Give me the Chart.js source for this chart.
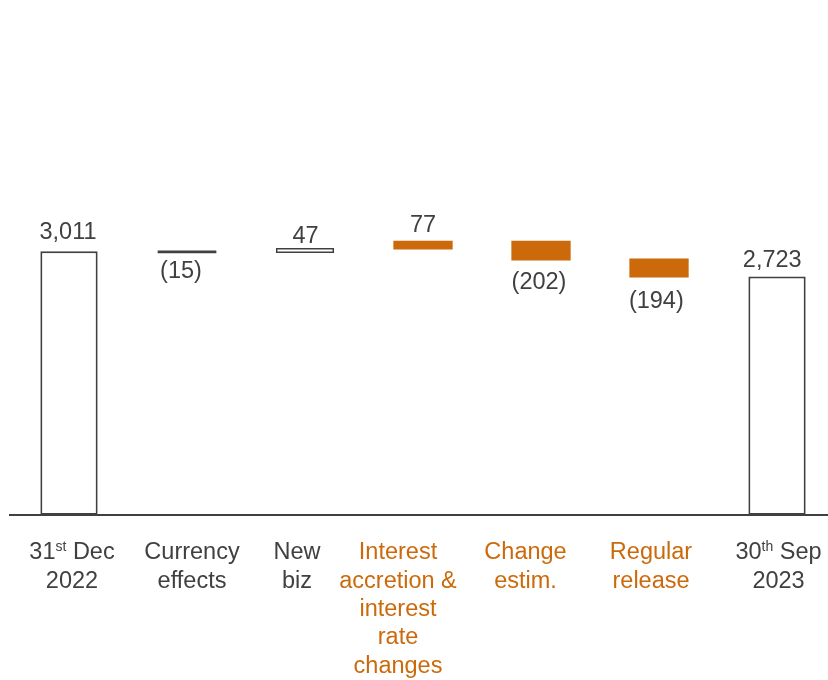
<!DOCTYPE html>
<html>
<head>
<meta charset="utf-8">
<script src="https://cdn.jsdelivr.net/npm/chart.js@4.4.1/dist/chart.umd.min.js"></script>
<style>
  html, body { margin: 0; padding: 0; background: #ffffff; overflow: hidden; }
  canvas { display: block; }
</style>
</head>
<body>
<canvas id="c" width="828" height="680"></canvas>
<script>
// ---- data ----
const categories = [
  ["31^st^ Dec", "2022"],
  ["Currency", "effects"],
  ["New", "biz"],
  ["Interest", "accretion &", "interest", "rate", "changes"],
  ["Change", "estim."],
  ["Regular", "release"],
  ["30^th^ Sep", "2023"]
];
const startValue = 3011;
const deltas = [-15, 47, 77, -202, -194];
const endValue = 2723;
const barKinds = ["total", "dark", "outline", "orange", "orange", "orange", "total"];

// ---- build floating ranges ----
const ranges = [];
ranges.push([0, startValue]);
let running = startValue;
deltas.forEach(d => {
  const next = running + d;
  ranges.push([Math.min(running, next), Math.max(running, next)]);
  running = next;
});
ranges.push([0, endValue]);
const signedValues = [startValue].concat(deltas).concat([endValue]);
const points = ranges.map((r, i) => ({ x: i, y: r }));

const DARK = '#404040';
const ORANGE = '#CC6A0B';
const FONT = '"Liberation Sans", Arial, sans-serif';

const styleFor = {
  total:   { bg: '#ffffff', bc: DARK,   bw: 2,   inf: 0 },
  outline: { bg: '#ffffff', bc: DARK,   bw: 1.6, inf: 0.5 },
  dark:    { bg: DARK,      bc: DARK,   bw: 0,   inf: 0.7 },
  orange:  { bg: ORANGE,    bc: ORANGE, bw: 0,   inf: 1 }
};
const labelColors = ["dark", "dark", "dark", "orange", "orange", "orange", "dark"].map(k => k === 'orange' ? ORANGE : DARK);

function fmt(v) {
  const s = Math.abs(v).toLocaleString('en-US');
  return v < 0 ? '(' + s + ')' : s;
}

const labelPlugin = {
  id: 'wfLabels',
  afterDatasetsDraw(chart, args, opts) {
    const ctx = chart.ctx;
    const xs = chart.scales.x, ys = chart.scales.y;
    ctx.save();
    ctx.font = opts.valueFontSize + 'px ' + FONT;
    ctx.fillStyle = DARK;
    ctx.textAlign = 'center';
    ctx.textBaseline = 'alphabetic';
    ranges.forEach((r, i) => {
      const v = signedValues[i];
      const cx = xs.getPixelForValue(i) + opts.valueDx[i];
      let yb;
      if (v < 0) {
        yb = ys.getPixelForValue(r[0]) + opts.valueGap[i];
      } else {
        yb = ys.getPixelForValue(r[1]) - opts.valueGap[i];
      }
      ctx.fillText(fmt(v), cx, yb);
    });
    ctx.restore();
  },
  afterDraw(chart, args, opts) {
    const ctx = chart.ctx;
    const xs = chart.scales.x;
    const base = chart.chartArea.bottom;
    ctx.save();
    ctx.textBaseline = 'alphabetic';
    ctx.textAlign = 'left';
    categories.forEach((lines, i) => {
      const cx = xs.getPixelForValue(i) + opts.catDx[i];
      ctx.fillStyle = labelColors[i];
      lines.forEach((line, li) => {
        const yb = base + opts.firstLine + li * opts.lineHeight;
        const parts = line.split('^').map((t, k) => ({ t, sup: k % 2 === 1 }));
        let total = 0;
        parts.forEach(p => {
          ctx.font = (p.sup ? opts.supSize : opts.catSize) + 'px ' + FONT;
          p.w = ctx.measureText(p.t).width;
          total += p.w;
        });
        let x = cx - total / 2;
        parts.forEach(p => {
          ctx.font = (p.sup ? opts.supSize : opts.catSize) + 'px ' + FONT;
          ctx.fillText(p.t, x, p.sup ? yb - 8 : yb);
          x += p.w;
        });
      });
    });
    ctx.restore();
  }
};

new Chart(document.getElementById('c'), {
  type: 'bar',
  data: {
    datasets: [{
      data: points,
      backgroundColor: barKinds.map(k => styleFor[k].bg),
      borderColor: barKinds.map(k => styleFor[k].bc),
      borderWidth: barKinds.map(k => styleFor[k].bw),
      inflateAmount: barKinds.map(k => styleFor[k].inf),
      borderSkipped: false,
      barThickness: 57.3
    }]
  },
  options: {
    responsive: false,
    animation: false,
    events: [],
    layout: { padding: { left: 10, right: 0, top: 77, bottom: 165 } },
    scales: {
      x: {
        type: 'linear',
        offset: false,
        min: -0.5,
        max: 6.432,
        grid: { display: false, drawTicks: false, offset: false },
        ticks: { display: false },
        border: { display: true, color: DARK, width: 2 }
      },
      y: {
        display: false,
        min: 0,
        max: 5000
      }
    },
    plugins: {
      legend: { display: false },
      tooltip: { enabled: false },
      wfLabels: {
        valueFontSize: 23.5,
        valueGap: [11.9, 25.8, 5.1, 10, 29.6, 31.9, 9.8],
        valueDx: [-1, -6, 0.5, 0, -2, -2.7, -4.8],
        catDx: [3, 5, -8, -25, -15.5, -8, 1.5],
        catSize: 23.5,
        supSize: 14,
        firstLine: 44.3,
        lineHeight: 28.3
      }
    }
  },
  plugins: [labelPlugin]
});
</script>
</body>
</html>
